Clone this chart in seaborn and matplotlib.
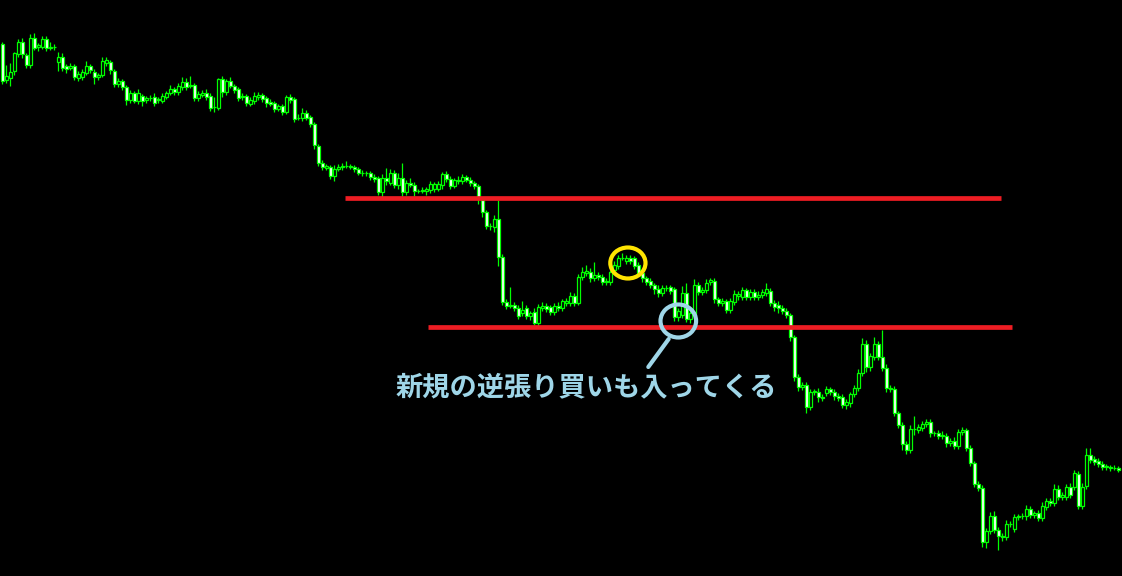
import numpy as np
import pandas as pd
import seaborn as sns
import matplotlib
matplotlib.use('Agg')
import matplotlib.pyplot as plt
from matplotlib.patches import Ellipse

# prices are kept as pips below a reference level (chart shows no axis)
REF = 151.00
PIP = 0.01

open_pips = [
    44, 80, 78, 71, 54, 42, 55, 65, 38, 47,
    47, 39, 48, 47, 62, 57, 66, 68, 66, 78,
    77, 73, 66, 72, 77, 75, 63, 62, 71, 84,
    81, 87, 100, 93, 101, 96, 100, 98, 97, 100,
    101, 97, 93, 89, 92, 87, 82, 86, 85, 98,
    95, 93, 96, 107, 108, 79, 92, 81, 86, 89,
    97, 96, 104, 101, 97, 95, 98, 102, 103, 109,
    106, 112, 97, 99, 118, 118, 113, 117, 124, 146,
    163, 168, 167, 176, 169, 167, 166, 166, 167, 169,
    173, 173, 173, 177, 178, 192, 178, 183, 173, 185,
    178, 192, 183, 185, 191, 191, 191, 190, 189, 189,
    185, 174, 179, 186, 181, 181, 177, 180, 183, 186,
    200, 212, 226, 227, 219, 257, 302, 306, 305, 308,
    313, 308, 316, 312, 323, 308, 306, 307, 312, 306,
    308, 303, 303, 296, 303, 277, 273, 272, 278, 275,
    277, 282, 282, 270, 266, 258, 261, 258, 258, 265,
    273, 278, 281, 285, 289, 293, 288, 287, 289, 317,
    315, 293, 319, 315, 285, 292, 290, 282, 281, 299,
    303, 301, 310, 302, 296, 297, 290, 297, 292, 297,
    295, 293, 291, 303, 305, 308, 311, 315, 337, 377,
    387, 385, 407, 392, 392, 397, 393, 389, 392, 396,
    397, 405, 403, 394, 388, 373, 344, 367, 357, 344,
    357, 368, 388, 389, 413, 425, 444, 450, 429, 430,
    428, 424, 422, 433, 433, 436, 436, 443, 441, 446,
    432, 430, 448, 463, 484, 488, 542, 531, 516, 530,
    536, 537, 524, 529, 517, 516, 516, 509, 515, 513,
    518, 507, 501, 503, 489, 497, 497, 487, 487, 474,
    506, 486, 455, 459, 461, 464, 467, 467, 468, 468,
]

close_pips = [
    81, 76, 72, 53, 42, 54, 65, 38, 48, 45,
    39, 48, 47, 47, 57, 68, 69, 66, 77, 74,
    72, 66, 70, 77, 75, 61, 60, 70, 84, 81,
    87, 100, 93, 101, 93, 101, 98, 98, 103, 99,
    96, 93, 89, 92, 86, 82, 87, 85, 98, 94,
    93, 97, 108, 107, 79, 92, 81, 86, 90, 98,
    96, 103, 100, 96, 95, 99, 103, 104, 109, 106,
    112, 97, 100, 119, 118, 113, 118, 124, 145, 163,
    167, 166, 176, 169, 167, 166, 166, 167, 169, 173,
    173, 173, 177, 179, 192, 178, 181, 173, 185, 178,
    192, 183, 185, 191, 191, 190, 189, 184, 184, 184,
    174, 179, 186, 180, 180, 177, 180, 183, 186, 198,
    212, 226, 226, 219, 257, 302, 306, 305, 308, 316,
    310, 316, 313, 323, 307, 306, 309, 312, 306, 308,
    301, 301, 296, 303, 277, 272, 271, 278, 275, 277,
    282, 281, 272, 265, 258, 258, 258, 261, 266, 273,
    278, 282, 285, 289, 293, 288, 288, 291, 317, 311,
    293, 319, 313, 285, 292, 290, 283, 280, 299, 303,
    301, 310, 301, 294, 294, 290, 297, 292, 297, 295,
    292, 289, 303, 307, 308, 311, 315, 337, 377, 387,
    385, 407, 392, 391, 397, 398, 389, 392, 396, 398,
    405, 402, 394, 388, 373, 344, 367, 356, 344, 357,
    368, 388, 389, 413, 425, 444, 450, 429, 429, 427,
    424, 422, 433, 433, 436, 435, 443, 441, 446, 432,
    430, 448, 463, 484, 488, 542, 531, 516, 530, 536,
    537, 524, 524, 517, 516, 516, 509, 515, 513, 518,
    506, 501, 503, 489, 497, 495, 487, 495, 473, 506,
    487, 455, 460, 462, 464, 467, 466, 468, 468, 470,
]

# wick lengths above / below the body, in pips
wick_up = [
    2, 11, 9, 1, 3, 4, 2, 4, 5, 2,
    3, 3, 5, 3, 5, 4, 2, 3, 2, 3,
    3, 5, 2, 3, 2, 4, 3, 2, 2, 3,
    2, 2, 3, 2, 4, 2, 2, 3, 4, 2,
    3, 2, 4, 2, 3, 5, 4, 9, 2, 3,
    3, 4, 3, 10, 1, 3, 2, 4, 2, 2,
    3, 2, 3, 4, 3, 2, 2, 3, 2, 2,
    2, 2, 3, 2, 4, 5, 3, 2, 2, 2,
    3, 2, 2, 4, 3, 3, 5, 2, 2, 2,
    3, 2, 2, 3, 2, 4, 10, 4, 3, 5,
    15, 3, 5, 3, 2, 3, 2, 3, 2, 3,
    2, 3, 3, 2, 4, 3, 2, 3, 2, 2,
    2, 2, 3, 4, 19, 3, 3, 18, 3, 3,
    9, 3, 2, 4, 3, 4, 3, 2, 3, 4,
    2, 3, 4, 3, 3, 5, 6, 4, 13, 3,
    3, 3, 2, 4, 3, 5, 3, 3, 2, 3,
    3, 2, 3, 2, 4, 3, 3, 2, 2, 3,
    7, 10, 4, 6, 3, 3, 4, 2, 3, 2,
    3, 2, 3, 4, 3, 3, 2, 3, 3, 4,
    3, 6, 3, 3, 4, 3, 3, 2, 2, 3,
    3, 3, 3, 2, 4, 3, 3, 2, 3, 3,
    3, 3, 2, 3, 4, 6, 4, 3, 7, 3,
    27, 4, 3, 3, 2, 3, 3, 4, 13, 3,
    3, 3, 3, 2, 3, 4, 3, 3, 4, 3,
    3, 2, 3, 2, 3, 3, 3, 4, 5, 3,
    3, 4, 3, 3, 2, 3, 4, 3, 2, 3,
    4, 3, 3, 5, 4, 3, 3, 4, 3, 3,
    4, 7, 7, 3, 3, 3, 2, 2, 3, 2,
]

wick_dn = [
    3, 3, 8, 4, 3, 4, 3, 3, 2, 4,
    2, 3, 2, 3, 9, 3, 4, 2, 3, 3,
    3, 2, 3, 7, 3, 2, 3, 4, 3, 3,
    3, 5, 3, 2, 3, 5, 3, 3, 3, 3,
    2, 2, 2, 3, 3, 3, 3, 2, 3, 3,
    2, 3, 3, 5, 2, 5, 3, 2, 3, 3,
    3, 3, 2, 3, 3, 3, 4, 2, 3, 2,
    3, 2, 3, 3, 2, 3, 2, 3, 4, 3,
    3, 2, 3, 5, 2, 3, 2, 2, 3, 2,
    3, 3, 3, 3, 3, 5, 4, 2, 3, 4,
    4, 3, 2, 5, 2, 2, 4, 3, 3, 2,
    4, 3, 3, 2, 3, 3, 2, 3, 3, 6,
    5, 3, 4, 5, 9, 3, 3, 2, 3, 3,
    3, 3, 4, 2, 3, 3, 3, 3, 3, 3,
    3, 3, 3, 3, 2, 3, 3, 4, 3, 3,
    3, 3, 3, 3, 3, 2, 3, 3, 3, 3,
    4, 3, 3, 5, 4, 3, 3, 3, 4, 4,
    3, 3, 4, 3, 3, 3, 3, 3, 4, 3,
    3, 3, 3, 3, 4, 3, 3, 3, 3, 3,
    3, 3, 3, 4, 5, 3, 3, 4, 4, 4,
    3, 6, 3, 3, 5, 3, 3, 3, 4, 3,
    3, 4, 4, 3, 3, 3, 5, 4, 3, 3,
    3, 4, 3, 3, 3, 6, 4, 3, 6, 3,
    3, 3, 4, 3, 3, 3, 4, 3, 3, 3,
    3, 3, 3, 3, 3, 5, 6, 3, 3, 14,
    4, 3, 3, 3, 3, 3, 4, 3, 3, 3,
    3, 3, 3, 3, 3, 3, 3, 3, 3, 3,
    3, 3, 3, 3, 3, 3, 3, 3, 2, 2,
]

resistance_pips = 198
support_pips = 327
note_text = "新規の逆張り買いも入ってくる"

# build the OHLC table
df = pd.DataFrame({'o': open_pips, 'c': close_pips, 'wu': wick_up, 'wd': wick_dn})
df['open'] = REF - df['o'] * PIP
df['close'] = REF - df['c'] * PIP
df['high'] = df[['open', 'close']].max(axis=1) + df['wu'] * PIP
df['low'] = df[['open', 'close']].min(axis=1) - df['wd'] * PIP
df['bull'] = df['close'] > df['open']
n = len(df)

sns.set_theme(style='dark', rc={'axes.facecolor': 'black', 'figure.facecolor': 'black'})
plt.rcParams['font.family'] = ['Noto Sans CJK JP', 'DejaVu Sans']

fig = plt.figure(figsize=(11.22, 5.76), dpi=100)
ax = fig.add_axes([0, 0, 1, 1])
ax.set_facecolor('black')

GREEN = '#00ff00'

# wicks then bodies (MT4 style: bull = black body, bear = white body)
ax.vlines(df.index, df['low'], df['high'], color=GREEN, linewidth=0.9, zorder=2)
body_h = (df['close'] - df['open']).abs().clip(lower=0.5 * PIP)
body_b = df[['open', 'close']].min(axis=1)
fills = np.where(df['bull'], 'black', 'white')
ax.bar(df.index, body_h, bottom=body_b, width=0.62, color=fills,
       edgecolor=GREEN, linewidth=0.9, zorder=3)

# horizontal levels
RED = '#ee1d23'
res = REF - resistance_pips * PIP
sup = REF - support_pips * PIP
sns.lineplot(x=[85.7, 249.7], y=[res, res], color=RED, linewidth=3.4, ax=ax,
             legend=False, zorder=4, solid_capstyle='butt')
sns.lineplot(x=[106.4, 252.4], y=[sup, sup], color=RED, linewidth=3.4, ax=ax,
             legend=False, zorder=4, solid_capstyle='butt')

# highlight circles
ax.add_patch(Ellipse((156.4, REF - 263 * PIP), 8.8, 31 * PIP, fill=False,
                     edgecolor='#ffe400', linewidth=3, zorder=5))
BLUE = '#9fd6e8'
ax.add_patch(Ellipse((169.0, REF - 321 * PIP), 8.9, 33 * PIP, fill=False,
                     edgecolor=BLUE, linewidth=3, zorder=5))
ax.plot([166.6, 161.5], [REF - 339 * PIP, REF - 367 * PIP], color=BLUE,
        linewidth=3, solid_capstyle='round', zorder=5)

ax.text(586 / 1122, 1 - 387 / 576, note_text, transform=ax.transAxes,
        ha='center', va='center', fontsize=19.6, fontweight='bold', color=BLUE,
        zorder=6)

ax.set_xlim(-0.575, n - 0.075)
ax.set_ylim(REF - 5.76, REF)
ax.axis('off')

fig.savefig('out.png', dpi=100, facecolor='black')
